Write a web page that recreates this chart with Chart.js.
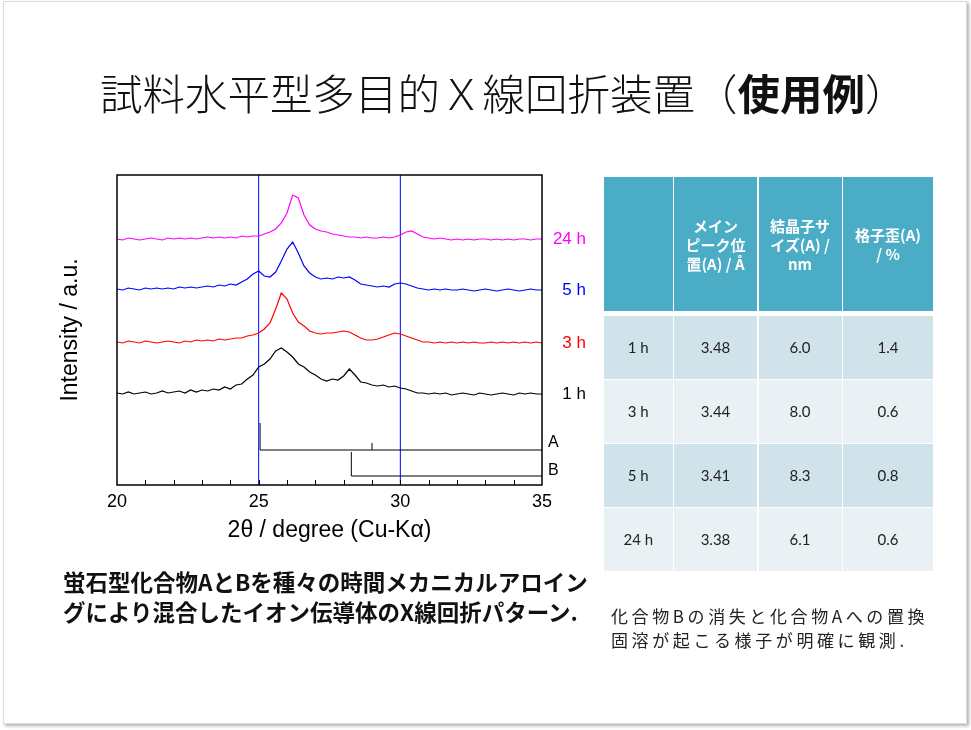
<!DOCTYPE html>
<html>
<head>
<meta charset="utf-8">
<script src="https://cdn.jsdelivr.net/npm/chart.js@4.4.0/dist/chart.umd.min.js"></script>
<style>
body { margin: 0; background: #fff; width: 971px; height: 730px; position: relative; overflow: hidden; font-family: "Noto Sans CJK JP", sans-serif; }
.slide { position: absolute; left: 3px; top: 1px; width: 962px; height: 721px; border: 1px solid #dcdcdc; box-shadow: 2px 2px 3px rgba(0,0,0,.3); }
#wrap { position: absolute; left: 0; top: 0; width: 971px; height: 730px; }
.title { position: absolute; left: 100px; top: 62px; font-size: 42.5px; line-height: 60px; font-weight: 300; color: #111; white-space: nowrap; }
.title b { font-weight: 700; }
.grid { position: absolute; left: 604px; top: 177px; display: grid; grid-template-columns: 68.5px 83px 83px 90px; grid-template-rows: 134px 2.5px 63px 63px 63px 63px; column-gap: 1.5px; row-gap: 1px; }
.grid div { display: flex; align-items: center; justify-content: center; text-align: center; }
.grid .hd { background: #4BACC6; color: #fff; font-weight: 700; font-size: 15px; line-height: 19px; }
.grid .sp { background: #fff; }
.grid .r0 { background: #D0E3EA; }
.grid .r1 { background: #E9F1F4; }
.grid .cell { font-family: Lato, "Noto Sans CJK JP", sans-serif; font-size: 15px; color: #222; }
.cap1 { position: absolute; left: 63px; top: 566px; font-size: 22.5px; line-height: 30px; font-weight: 700; color: #111; white-space: nowrap; letter-spacing: 0px; }
.cap2 { position: absolute; left: 611px; top: 604px; font-size: 17px; line-height: 24px; color: #222; white-space: nowrap; letter-spacing: 3.6px; }
</style>
</head>
<body>
<div class="slide"></div>
<div id="wrap"><canvas id="xrd" width="971" height="730"></canvas></div>
<div class="title">試料水平型多目的Ｘ線回折装置（<b>使用例</b>）</div>
<div class="grid" id="tbl"></div>
<div class="cap1">蛍石型化合物AとBを種々の時間メカニカルアロイン<br>グにより混合したイオン伝導体のX線回折パターン.</div>
<div class="cap2">化合物Bの消失と化合物Aへの置換<br>固溶が起こる様子が明確に観測.</div>
<script>
// 2theta scan positions (deg)
const twoTheta = [
  20.0, 20.2, 20.4, 20.6, 20.8, 21.0, 21.2, 21.4, 21.6, 21.8,
  22.0, 22.2, 22.4, 22.6, 22.8, 23.0, 23.2, 23.4, 23.6, 23.8,
  24.0, 24.2, 24.4, 24.6, 24.8, 25.0, 25.2, 25.4, 25.6, 25.8,
  26.0, 26.2, 26.4, 26.6, 26.8, 27.0, 27.2, 27.4, 27.6, 27.8,
  28.0, 28.2, 28.4, 28.6, 28.8, 29.0, 29.2, 29.4, 29.6, 29.8,
  30.0, 30.2, 30.4, 30.6, 30.8, 31.0, 31.2, 31.4, 31.6, 31.8,
  32.0, 32.2, 32.4, 32.6, 32.8, 33.0, 33.2, 33.4, 33.6, 33.8,
  34.0, 34.2, 34.4, 34.6, 34.8, 35.0
];

// intensities (a.u., traces already stacked with offsets)
const int1h = [
  92, 91, 93, 91, 92, 93, 91, 92, 94, 92,
  93, 94, 92, 95, 93, 95, 94, 96, 95, 98,
  96, 100, 101, 106, 110, 118, 121, 126, 134, 137,
  133, 128, 121, 118, 113, 110, 106, 104, 106, 105,
  109, 116, 110, 103, 102, 100, 99, 100, 98, 99,
  97, 96, 94, 92, 92, 91, 92, 91, 92, 90,
  91, 92, 91, 90, 92, 91, 90, 91, 92, 91,
  90, 92, 91, 92, 91, 91
];
const int3h = [
  143, 142, 144, 143, 142, 144, 143, 142, 143, 144,
  143, 142, 144, 143, 145, 144, 145, 144, 146, 145,
  146, 147, 147, 149, 150, 152, 156, 162, 176, 192,
  186, 172, 163, 159, 154, 152, 151, 152, 152, 153,
  154, 153, 150, 147, 145, 145, 146, 148, 150, 152,
  151, 149, 147, 145, 143, 143, 142, 143, 142, 143,
  142, 143, 142, 143, 142, 142, 143, 142, 143, 142,
  143, 142, 143, 142, 143, 142
];
const int5h = [
  196, 195, 197, 196, 195, 197, 196, 197, 196, 197,
  196, 198, 197, 198, 197, 198, 199, 198, 200, 199,
  201, 200, 203, 206, 211, 214, 209, 208, 213, 224,
  236, 243, 232, 219, 212, 208, 206, 207, 206, 208,
  207, 208, 205, 201, 200, 199, 198, 199, 198, 201,
  202, 201, 199, 197, 196, 195, 196, 195, 196, 195,
  195, 196, 195, 194, 195, 196, 195, 194, 195, 196,
  195, 194, 195, 196, 195, 195
];
const int24h = [
  246, 245, 247, 246, 245, 246, 247, 246, 245, 247,
  246, 247, 246, 247, 246, 247, 248, 247, 248, 247,
  248, 247, 249, 248, 249, 249, 251, 253, 256, 262,
  272, 290, 287, 270, 260, 256, 254, 253, 251, 250,
  249, 248, 248, 247, 248, 247, 247, 248, 247, 248,
  250, 253, 254, 251, 248, 247, 246, 247, 246, 245,
  246, 245, 246, 245, 246, 246, 245, 246, 245, 246,
  245, 246, 246, 245, 246, 246
];

const seriesNames = ['1 h', '3 h', '5 h', '24 h'];
const seriesColors = ['#000000', '#FF0000', '#0000FF', '#FF00FF'];
const seriesData = [int1h, int3h, int5h, int24h];

// reference phases (stick positions / heights / baseline)
const phaseAPeaks = [25.05, 29.0];
const phaseAHeights = [27, 7];
const phaseABase = 35;
const phaseBPeaks = [28.27];
const phaseBHeights = [24];
const phaseBBase = 9;

const markerLines = [25, 30];

// table
const tableHeads = ['', 'メイン<br>ピーク位<br>置(A) / Å', '結晶子サ<br>イズ(A) /<br>nm', '格子歪(A)<br>/ %'];
const tableTimes = ['1 h', '3 h', '5 h', '24 h'];
const peakPos = ['3.48', '3.44', '3.41', '3.38'];
const crystSize = ['6.0', '8.0', '8.3', '6.1'];
const strain = ['1.4', '0.6', '0.8', '0.6'];

const tbl = document.getElementById('tbl');
let html = tableHeads.map(h => `<div class="hd">${h}</div>`).join('');
html += '<div class="sp"></div>'.repeat(4);
tableTimes.forEach((t, i) => {
  const cls = i % 2 === 0 ? 'r0' : 'r1';
  [t, peakPos[i], crystSize[i], strain[i]].forEach(v => { html += `<div class="cell ${cls}">${v}</div>`; });
});
tbl.innerHTML = html;

function sticks(peaks, heights, base) {
  const pts = [];
  peaks.forEach((p, i) => { pts.push({x: p, y: base}, {x: p, y: base + heights[i]}, {x: p, y: null}); });
  pts.push({x: peaks[0], y: base}, {x: 35, y: base});
  return pts;
}

const datasets = [];
seriesData.forEach((d, i) => {
  datasets.push({
    label: seriesNames[i],
    data: twoTheta.map((t, j) => ({x: t, y: d[j]})),
    borderColor: seriesColors[i],
    borderWidth: 1.2,
    pointRadius: 0,
    showLine: true,
    tension: 0
  });
});
datasets.push({ label: 'A', data: sticks(phaseAPeaks, phaseAHeights, phaseABase), borderColor: '#000', borderWidth: 1, pointRadius: 0, showLine: true, spanGaps: false });
datasets.push({ label: 'B', data: sticks(phaseBPeaks, phaseBHeights, phaseBBase), borderColor: '#000', borderWidth: 1, pointRadius: 0, showLine: true, spanGaps: false });
const markerPts = [];
markerLines.forEach(m => markerPts.push({x: m, y: 0}, {x: m, y: 310}, {x: m, y: null}));
datasets.push({ label: 'markers', data: markerPts, borderColor: '#0000FF', borderWidth: 1, pointRadius: 0, showLine: true, spanGaps: false });

const framePlugin = {
  id: 'frame',
  afterDatasetsDraw(chart) {
    const {ctx, chartArea: a, scales: {x, y}} = chart;
    ctx.save();
    ctx.strokeStyle = '#000';
    ctx.lineWidth = 1.5;
    ctx.strokeRect(a.left, a.top, a.right - a.left, a.bottom - a.top);
    ctx.lineWidth = 1;
    for (let d = 21; d < 35; d++) {
      const px = Math.round(x.getPixelForValue(d)) + 0.5;
      ctx.beginPath(); ctx.moveTo(px, a.bottom); ctx.lineTo(px, a.bottom - 5); ctx.stroke();
    }
    ctx.font = '17px "Liberation Sans", Arial, sans-serif';
    ctx.textAlign = 'right';
    ctx.textBaseline = 'middle';
    seriesData.forEach((d, i) => {
      ctx.fillStyle = seriesColors[i];
      ctx.fillText(seriesNames[i], a.right + 44, y.getPixelForValue(d[d.length - 1]));
    });
    ctx.fillStyle = '#000';
    ctx.textAlign = 'left';
    ctx.font = '16px "Liberation Sans", Arial, sans-serif';
    ctx.fillText('A', a.right + 6, y.getPixelForValue(phaseABase + 7));
    ctx.fillText('B', a.right + 6, y.getPixelForValue(phaseBBase + 5));
    ctx.restore();
  }
};

const ctx = document.getElementById('xrd').getContext('2d');
new Chart(ctx, {
  type: 'scatter',
  data: { datasets: datasets },
  options: {
    responsive: false,
    animation: false,
    layout: { padding: { left: 53, top: 175, right: 429, bottom: 182 } },
    plugins: { legend: { display: false }, tooltip: { enabled: false } },
    scales: {
      x: {
        type: 'linear', min: 20, max: 35,
        grid: { display: false, drawTicks: false },
        border: { display: false },
        ticks: { stepSize: 5, padding: 6, color: '#000', font: { family: '"Liberation Sans", Arial, sans-serif', size: 18 } },
        title: { display: true, text: '2θ / degree (Cu-Kα)', color: '#000', font: { family: '"Liberation Sans", Arial, sans-serif', size: 23 } },
        afterFit: s => { s.height = 63; }
      },
      y: {
        min: 0, max: 310,
        grid: { display: false, drawTicks: false },
        border: { display: false },
        ticks: { display: false },
        title: { display: true, text: 'Intensity / a.u.', color: '#000', font: { family: '"Liberation Sans", Arial, sans-serif', size: 23 } },
        afterFit: s => { s.width = 64; }
      }
    }
  },
  plugins: [framePlugin]
});
</script>
</body>
</html>
